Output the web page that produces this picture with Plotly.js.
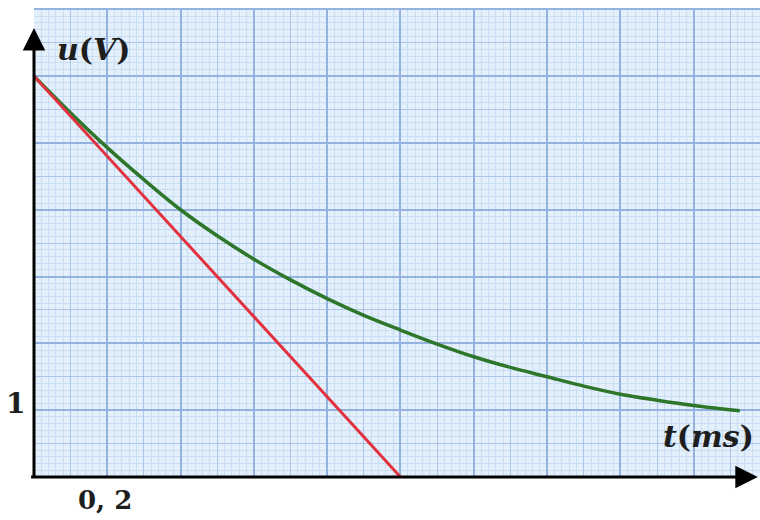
<!DOCTYPE html>
<html>
<head>
<meta charset="utf-8">
<script src="https://cdn.plot.ly/plotly-3.0.1.min.js"></script>
<style>html,body{margin:0;padding:0;background:#fff;}#chart{width:760px;height:520px;}</style>
</head>
<body>
<div id="chart"></div>
<script>
// Discharge curve u(t) (t in ms, u in V)
const curveT = [0, 0.1, 0.2, 0.3, 0.4, 0.5, 0.6, 0.7, 0.8, 0.9, 1.0, 1.1, 1.2, 1.3, 1.4, 1.5, 1.6, 1.7, 1.8, 1.926];
const curveU = [6.0, 5.45, 4.93, 4.45, 4.00, 3.61, 3.26, 2.95, 2.67, 2.42, 2.20, 1.99, 1.80, 1.64, 1.50, 1.36, 1.24, 1.15, 1.07, 0.99];
// Tangent at t = 0
const tangentT = [0, 1.0];
const tangentU = [6, 0];
// Axis label texts
const yLabel = '<b><i>u</i>(<i>V</i>)</b>';
const xLabel = '<b><i>t</i>(<i>ms</i>)</b>';
const yTickText = '<b>1</b>';
const xTickText = '<b>0, 2</b>';

const xMax = 1.981, yMax = 7.02;
const fine = '#cadef3', medium = '#aac5ea', major = '#93b2e0';
const serif = {family: 'DejaVu Serif, serif', color: '#1e1e1e'};

const traces = [
  {x: curveT, y: curveU, type: 'scatter', mode: 'lines', line: {color: '#2d762a', width: 3.5, shape: 'spline', smoothing: 1}, hoverinfo: 'skip'},
  {x: tangentT, y: tangentU, type: 'scatter', mode: 'lines', line: {color: '#e2323f', width: 3}, hoverinfo: 'skip'},
  {x: [], y: [], xaxis: 'x2', yaxis: 'y2', type: 'scatter', mode: 'lines', hoverinfo: 'skip', showlegend: false}
];

const baseAxis = {showticklabels: false, ticks: '', zeroline: false, showline: false, fixedrange: true};

const layout = {
  width: 760, height: 520,
  margin: {l: 34, r: 0, t: 8, b: 43},
  paper_bgcolor: '#ffffff',
  plot_bgcolor: '#e3f0fb',
  showlegend: false,
  xaxis: Object.assign({}, baseAxis, {range: [0, xMax], tick0: 0, dtick: 0.1, showgrid: true, gridcolor: medium, gridwidth: 1,
    minor: {dtick: 0.02, tick0: 0, showgrid: true, gridcolor: fine, gridwidth: 1, ticks: ''}}),
  yaxis: Object.assign({}, baseAxis, {range: [0, yMax], tick0: 0, dtick: 0.5, showgrid: true, gridcolor: medium, gridwidth: 1,
    minor: {dtick: 0.1, tick0: 0, showgrid: true, gridcolor: fine, gridwidth: 1, ticks: ''}}),
  xaxis2: Object.assign({}, baseAxis, {overlaying: 'x', anchor: 'y2', range: [0, xMax], tick0: 0, dtick: 0.2, showgrid: true, gridcolor: major, gridwidth: 2}),
  yaxis2: Object.assign({}, baseAxis, {overlaying: 'y', anchor: 'x2', range: [0, yMax], tick0: 0, dtick: 1, showgrid: true, gridcolor: major, gridwidth: 2}),
  annotations: [
    {x: 0, y: 6.72, ax: 0, ay: -0.03, xref: 'x', yref: 'y', axref: 'x', ayref: 'y', text: '', showarrow: true,
      arrowhead: 2, arrowsize: 1.5, arrowwidth: 3, arrowcolor: '#000', standoff: 0, startstandoff: 0},
    {x: 1.975, y: 0, ax: -0.012, ay: 0, xref: 'x', yref: 'y', axref: 'x', ayref: 'y', text: '', showarrow: true,
      arrowhead: 2, arrowsize: 1.5, arrowwidth: 3, arrowcolor: '#000', standoff: 0, startstandoff: 0},
    {x: 0.057, y: 6.40, xref: 'x', yref: 'y', xanchor: 'left', yanchor: 'middle', text: yLabel, showarrow: false,
      font: Object.assign({size: 30}, serif)},
    {x: 1.84, y: 0.60, xref: 'x', yref: 'y', xanchor: 'center', yanchor: 'middle', text: xLabel, showarrow: false,
      font: Object.assign({size: 30}, serif)},
    {x: -0.0255, y: 0.156, xref: 'paper', yref: 'paper', xanchor: 'center', yanchor: 'middle', text: yTickText, showarrow: false,
      font: Object.assign({size: 28}, serif)},
    {x: 0.0978, y: -0.049, xref: 'paper', yref: 'paper', xanchor: 'center', yanchor: 'middle', text: xTickText, showarrow: false,
      font: Object.assign({size: 26}, serif)}
  ]
};

Plotly.newPlot('chart', traces, layout, {staticPlot: true, displayModeBar: false});
</script>
</body>
</html>
